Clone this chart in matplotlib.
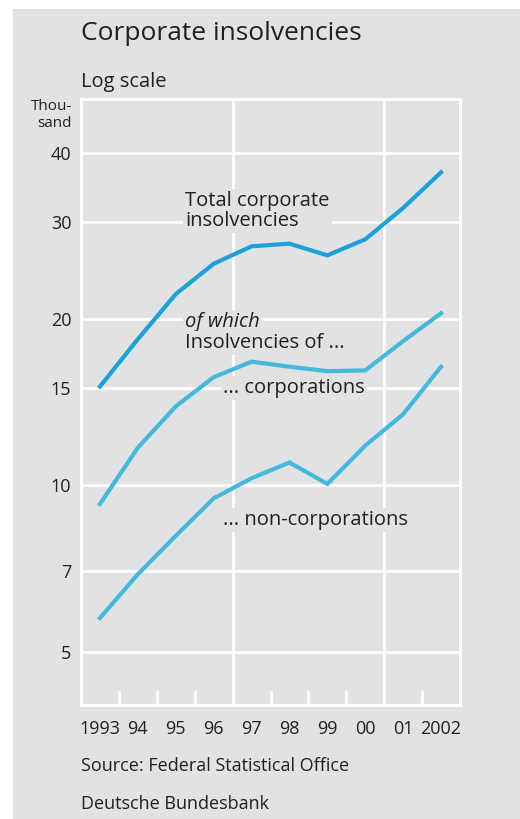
import matplotlib
matplotlib.use('Agg')
import matplotlib.pyplot as plt
from matplotlib.patches import Rectangle
from matplotlib.ticker import NullLocator

# Daten (Tausend)
years = [1993, 1994, 1995, 1996, 1997, 1998, 1999, 2000, 2001, 2002]
year_labels = ['1993', '94', '95', '96', '97', '98', '99', '00', '01', '2002']
total = [15.1, 18.4, 22.2, 25.2, 27.1, 27.4, 26.1, 27.9, 31.8, 36.9]
corporations = [9.25, 11.7, 13.9, 15.7, 16.75, 16.4, 16.1, 16.15, 18.25, 20.5]
non_corporations = [5.75, 6.9, 8.1, 9.47, 10.3, 11.0, 10.06, 11.8, 13.45, 16.4]
y_ticks = [5, 7, 10, 15, 20, 30, 40]

BG = '#e1e2e4'
DARK_BLUE = '#1fa0d8'
LIGHT_BLUE = '#45b8dc'
TXT = '#231f20'

plt.rcParams['font.family'] = ['Open Sans', 'DejaVu Sans']

W, H = 520, 819
fig = plt.figure(figsize=(W / 100, H / 100), dpi=100)
fig.patch.set_facecolor('white')
# grauer Hintergrund
fig.patches.append(Rectangle((13 / W, 0), 1 - 13 / W, 1 - 9 / H,
                             transform=fig.transFigure, facecolor=BG,
                             edgecolor='none', zorder=-10))

left, right, top, bottom = 81, 460, 99, 705
ax = fig.add_axes([left / W, 1 - bottom / H, (right - left) / W, (bottom - top) / H])
ax.set_facecolor(BG)
ax.set_yscale('log')
ax.set_ylim(4.0, 50.1)
ax.set_xlim(1992.5, 2002.5)

for s in ax.spines.values():
    s.set_color('white')
    s.set_linewidth(2.2)

# Gitter
for v in y_ticks:
    ax.axhline(v, color='white', lw=2.0, zorder=1)
for xv in [1996.5, 2000.5]:
    ax.axvline(xv, color='white', lw=2.0, zorder=1)
# kurze Trennstriche unten
for xv in [1993.5, 1994.5, 1995.5, 1997.5, 1998.5, 1999.5, 2001.5]:
    ax.plot([xv, xv], [0, 0.022], color='white', lw=2.0,
            transform=ax.get_xaxis_transform(), clip_on=False, zorder=1)

ax.plot(years, total, color=DARK_BLUE, lw=3.0, zorder=3, solid_joinstyle='miter')
ax.plot(years, corporations, color=LIGHT_BLUE, lw=3.0, zorder=3, solid_joinstyle='miter')
ax.plot(years, non_corporations, color=LIGHT_BLUE, lw=3.0, zorder=3, solid_joinstyle='miter')

ax.set_yticks(y_ticks)
ax.set_yticklabels([str(v) for v in y_ticks])
ax.yaxis.set_minor_locator(NullLocator())
ax.set_xticks(years)
ax.set_xticklabels(year_labels)
ax.tick_params(axis='both', length=0, labelsize=13, colors=TXT)
ax.tick_params(axis='y', pad=7)
ax.tick_params(axis='x', pad=11)

box = dict(facecolor=BG, edgecolor='none', pad=1.5)
ax.text(1995.25, 31.4, 'Total corporate\ninsolvencies', fontsize=14.5, color=TXT,
        ha='left', va='center', linespacing=1.0, bbox=box, zorder=2)
ax.text(1995.25, 19.8, 'of which', fontsize=14.5, color=TXT, style='italic',
        ha='left', va='center', bbox=box, zorder=2)
ax.text(1995.25, 18.1, 'Insolvencies of ...', fontsize=14.5, color=TXT,
        ha='left', va='center', bbox=box, zorder=2)
ax.text(1996.25, 15.0, '... corporations', fontsize=14.5, color=TXT,
        ha='left', va='center', bbox=box, zorder=2)
ax.text(1996.25, 8.65, '... non-corporations', fontsize=14.5, color=TXT,
        ha='left', va='center', bbox=box, zorder=2)

fig.text(81 / W, 1 - 34 / H, 'Corporate insolvencies', fontsize=19, color=TXT,
         ha='left', va='center')
fig.text(81 / W, 1 - 82 / H, 'Log scale', fontsize=14.5, color=TXT,
         ha='left', va='center')
fig.text(72 / W, 1 - 115 / H, 'Thou-\nsand', fontsize=11, color=TXT,
         ha='right', va='center', linespacing=1.1)
fig.text(81 / W, 1 - 766 / H, 'Source: Federal Statistical Office', fontsize=13,
         color=TXT, ha='left', va='center')
fig.text(81 / W, 1 - 804 / H, 'Deutsche Bundesbank', fontsize=13,
         color=TXT, ha='left', va='center')

fig.savefig('out.png', dpi=100, facecolor=fig.get_facecolor())
